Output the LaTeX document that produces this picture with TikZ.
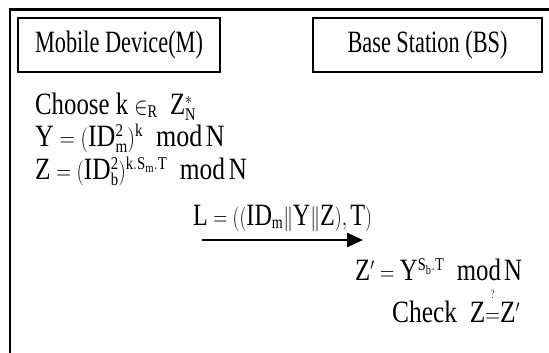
\documentclass[tikz,border=0pt]{standalone}
\usepackage{graphicx}
\usepackage{fontspec}
\setmainfont{Liberation Serif}
\usetikzlibrary{arrows.meta,positioning}

\DeclareMathSizes{31}{31}{18}{13}
\newcommand{\squash}[2][0.72]{\scalebox{#1}[1]{#2}}
\newcommand{\qeq}{\mathrel{\stackrel{\raisebox{13pt}{$\scriptscriptstyle ?$}}{=}}}

\begin{document}
\begin{tikzpicture}[
x=1pt, y=-1pt,
font=\fontsize{31}{36}\selectfont,
partybox/.style={draw, line width=1.8pt, minimum width=202pt, minimum height=54pt, inner sep=0pt},
stepline/.style={anchor=base west, inner sep=0pt},
arrow/.style={-{Triangle[length=16pt,width=14pt]}, line width=2.4pt}
]
\useasboundingbox (0,0) rectangle (549,353);
\draw[line width=2.8pt] (10,353) -- (10,9.3) -- (549,9.3);

\node[partybox] (mob) at (119,45) {\squash{Mobile Device(M)}};
\node[partybox, minimum width=229pt] (bs) at (427.5,45) {\squash{Base Station (BS)}};

% mobile side
\node[stepline] (c1) at (35,114) {\squash[0.8]{Choose k $\in_{\mathrm{R}}$ \ $\mathrm{Z^{*}_{N}}$}};
\node[stepline] (c2) at (35,146) {\squash[0.84]{$\mathrm{Y=(ID^{2}_{m})^{k}\ \ mod\,N}$}};
\node[stepline] (c3) at (35,179) {\squash[0.82]{$\mathrm{Z=(ID^{2}_{b})^{k.S_{m}.T}\ \ mod\,N}$}};

% message
\node[stepline] (msg) at (193,225) {\squash[0.78]{$\mathrm{L=((ID_{m}\|Y\|Z),T)}$}};
\coordinate (arrS) at (202,240);
\coordinate (arrE) at (363,240);
\draw[arrow] (arrS) -- (arrE);

% base station side
\node[stepline] (b1) at (355,280) {\squash[0.8]{$\mathrm{Z'=Y^{S_{b}.T}\ \ mod\,N}$}};
\node[stepline] (b2) at (392,322) {\squash[0.82]{Check \ $\mathrm{Z}{\qeq}\mathrm{Z'}$}};
\end{tikzpicture}
\end{document}
